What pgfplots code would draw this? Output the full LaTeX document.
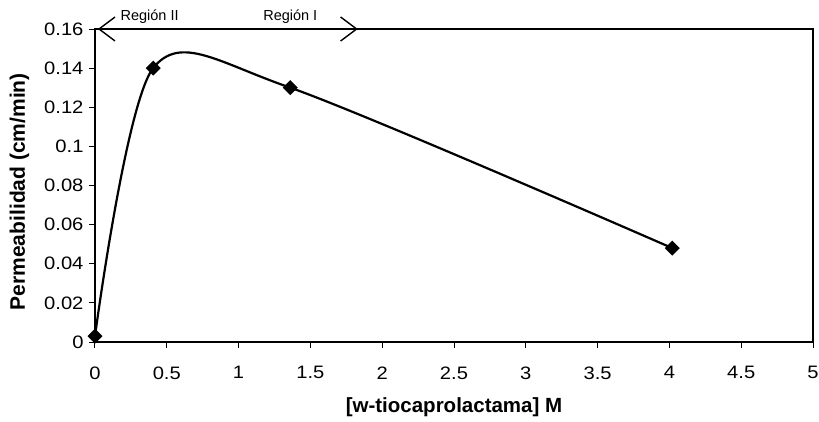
\documentclass[border=0pt]{standalone}
\usepackage{fontspec}
\setmainfont{Liberation Sans}
\newfontfamily\tickfont[FakeStretch=1.12]{Liberation Sans}
\usepackage{pgfplots}
\pgfplotsset{compat=1.18}
\usetikzlibrary{arrows.meta}
\begin{document}
\begin{tikzpicture}
\useasboundingbox (-95pt,-79pt) rectangle (724pt,342pt);
\begin{axis}[
  scale only axis, width=718pt, height=313pt,
  xmin=0, xmax=5, ymin=0, ymax=0.16,
  clip mode=individual,
  xtick={0,0.5,1,1.5,2,2.5,3,3.5,4,4.5,5},
  xticklabels={0,0.5,1,1.5,2,2.5,3,3.5,4,4.5,5},
  ytick={0,0.02,0.04,0.06,0.08,0.1,0.12,0.14,0.16},
  yticklabels={0,0.02,0.04,0.06,0.08,0.1,0.12,0.14,0.16},
  axis line style={line width=1.6pt},
  tick align=outside, xtick pos=bottom, ytick pos=left,
  major tick length=6pt,
  tick style={line width=1pt, black},
  xticklabel style={font=\tickfont\fontsize{18}{18}\selectfont, yshift=-15pt},
  yticklabel style={font=\tickfont\fontsize{18}{18}\selectfont, xshift=-2pt},
  xlabel={[w-tiocaprolactama] M},
  ylabel={Permeabilidad (cm/min)},
  xlabel style={font=\bfseries\fontsize{20.5}{20.5}\selectfont, at={(axis description cs:0.5,-0.2268)}, anchor=base},
  ylabel style={font=\bfseries\fontsize{21}{21}\selectfont, at={(axis description cs:-0.0975,0.48)}, rotate=0, anchor=base},
]
\addplot[black, line width=2.2pt, smooth, mark=square*, mark size=4.2pt, mark options={rotate=45, solid, fill=black}]
  coordinates {(0,0.003) (0.405,0.140) (1.36,0.130) (4.02,0.048)};
\draw[line width=1.8pt, {Straight Barb[length=16pt,width=24pt,line width=1.4pt]}-{Straight Barb[length=16pt,width=24pt,line width=1.4pt]}]
  (axis cs:0.02,0.16) -- (axis cs:1.83,0.16);
\node[font=\fontsize{14.5}{14.5}\selectfont, anchor=base] at ([yshift=9pt]axis cs:0.38,0.16) {Región II};
\node[font=\fontsize{14.5}{14.5}\selectfont, anchor=base] at ([yshift=9pt]axis cs:1.36,0.16) {Región I};
\end{axis}
\end{tikzpicture}
\end{document}
